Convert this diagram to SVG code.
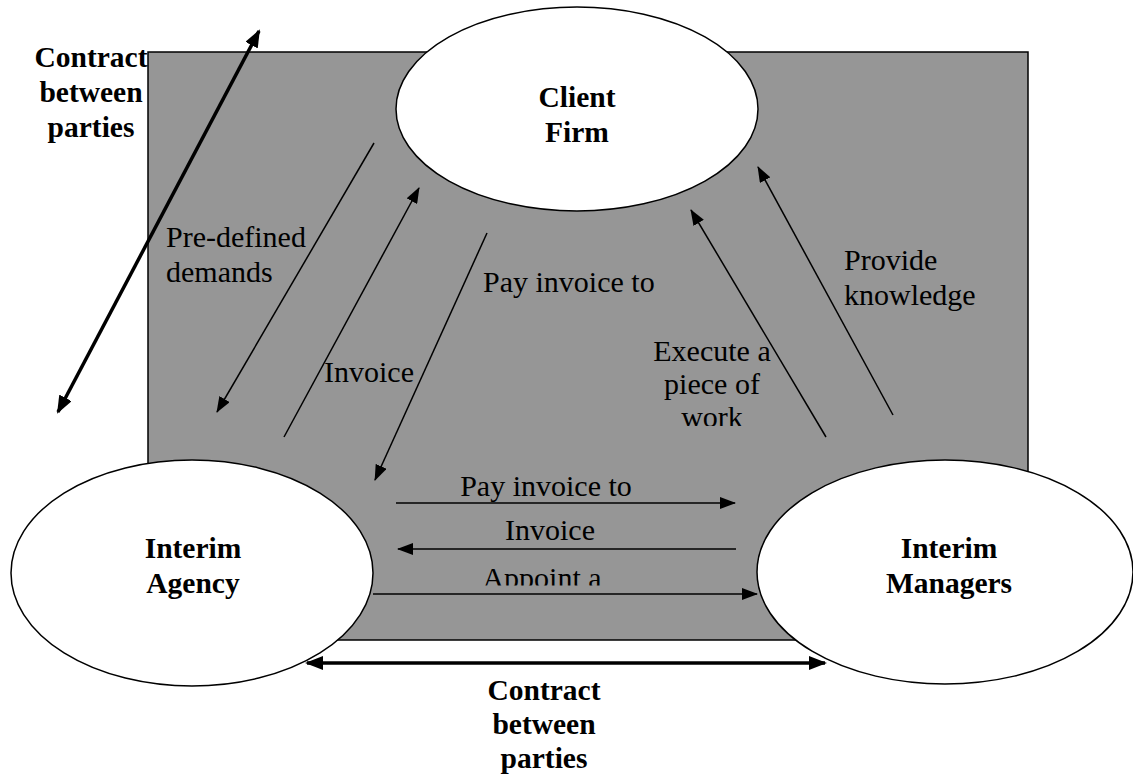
<svg xmlns="http://www.w3.org/2000/svg" width="1133" height="774" viewBox="0 0 1133 774">
<style>
.lbl{font-family:"Liberation Serif","Times New Roman",serif;font-size:30px;fill:#000}
.bold{font-family:"Liberation Serif","Times New Roman",serif;font-size:29.5px;font-weight:bold;fill:#000}
.node{fill:#fff;stroke:#000;stroke-width:1.5}
.thin{stroke:#000;stroke-width:1.5;fill:none}
.thick{stroke:#000;stroke-width:3.5;fill:none}
</style>
<defs>
<marker id="ah" markerUnits="userSpaceOnUse" markerWidth="16" markerHeight="12" refX="15" refY="6" orient="auto"><path d="M0,0 L16,6 L0,12 z" fill="#000"/></marker>
<marker id="ahb" markerUnits="userSpaceOnUse" markerWidth="18" markerHeight="14" refX="16" refY="7" orient="auto-start-reverse"><path d="M0,0 L18,7 L0,14 z" fill="#000"/></marker>
<clipPath id="cwork"><rect x="600" y="300" width="200" height="126"/></clipPath>
<clipPath id="cappt"><rect x="440" y="550" width="200" height="35.5"/></clipPath>
</defs>
<rect id="background" x="148" y="52" width="880" height="588" fill="#969696" stroke="#000" stroke-width="1.5"/>
<g id="client-firm">
<ellipse class="node" cx="577" cy="109" rx="181" ry="102"/>
<text class="bold" x="577" y="107" text-anchor="middle">Client</text>
<text class="bold" x="577" y="142" text-anchor="middle">Firm</text>
</g>
<g id="interim-agency">
<ellipse class="node" cx="192" cy="573" rx="181" ry="113"/>
<text class="bold" x="193" y="558" text-anchor="middle">Interim</text>
<text class="bold" x="193" y="593" text-anchor="middle">Agency</text>
</g>
<g id="interim-managers">
<ellipse class="node" cx="945" cy="572" rx="188" ry="112"/>
<text class="bold" x="949" y="558" text-anchor="middle">Interim</text>
<text class="bold" x="949" y="593" text-anchor="middle">Managers</text>
</g>
<g id="connectors">
<line class="thick" x1="58" y1="412" x2="259" y2="31" marker-start="url(#ahb)" marker-end="url(#ahb)"/>
<line class="thin" x1="374" y1="143" x2="217" y2="412" marker-end="url(#ah)"/>
<line class="thin" x1="284" y1="437" x2="419" y2="188" marker-end="url(#ah)"/>
<line class="thin" x1="487" y1="233" x2="375" y2="480" marker-end="url(#ah)"/>
<line class="thin" x1="826" y1="437" x2="691" y2="210" marker-end="url(#ah)"/>
<line class="thin" x1="893" y1="415" x2="758" y2="167" marker-end="url(#ah)"/>
<line class="thin" x1="396" y1="503" x2="735" y2="503" marker-end="url(#ah)"/>
<line class="thin" x1="736" y1="549" x2="398" y2="549" marker-end="url(#ah)"/>
<line class="thin" x1="373" y1="594" x2="757" y2="594" marker-end="url(#ah)"/>
<line class="thick" x1="307" y1="663" x2="825" y2="663" marker-start="url(#ahb)" marker-end="url(#ahb)"/>
</g>
<g id="labels">
<text class="bold" x="91" y="67" text-anchor="middle">Contract</text>
<text class="bold" x="91" y="102" text-anchor="middle">between</text>
<text class="bold" x="91" y="137" text-anchor="middle">parties</text>
<text class="lbl" x="166" y="247">Pre-defined</text>
<text class="lbl" x="166" y="282">demands</text>
<text class="lbl" x="324" y="382">Invoice</text>
<text class="lbl" x="483" y="292">Pay invoice to</text>
<text class="lbl" x="844" y="270">Provide</text>
<text class="lbl" x="844" y="305">knowledge</text>
<g clip-path="url(#cwork)">
<text class="lbl" x="712" y="361" text-anchor="middle">Execute a</text>
<text class="lbl" x="712" y="394" text-anchor="middle">piece of</text>
<text class="lbl" x="712" y="427" text-anchor="middle">work</text>
</g>
<text class="lbl" x="546" y="496" text-anchor="middle">Pay invoice to</text>
<text class="lbl" x="550" y="540" text-anchor="middle">Invoice</text>
<g clip-path="url(#cappt)">
<text class="lbl" x="542" y="588" text-anchor="middle">Appoint a</text>
</g>
<text class="bold" x="544" y="700" text-anchor="middle">Contract</text>
<text class="bold" x="544" y="734" text-anchor="middle">between</text>
<text class="bold" x="544" y="768" text-anchor="middle">parties</text>
</g>
</svg>
